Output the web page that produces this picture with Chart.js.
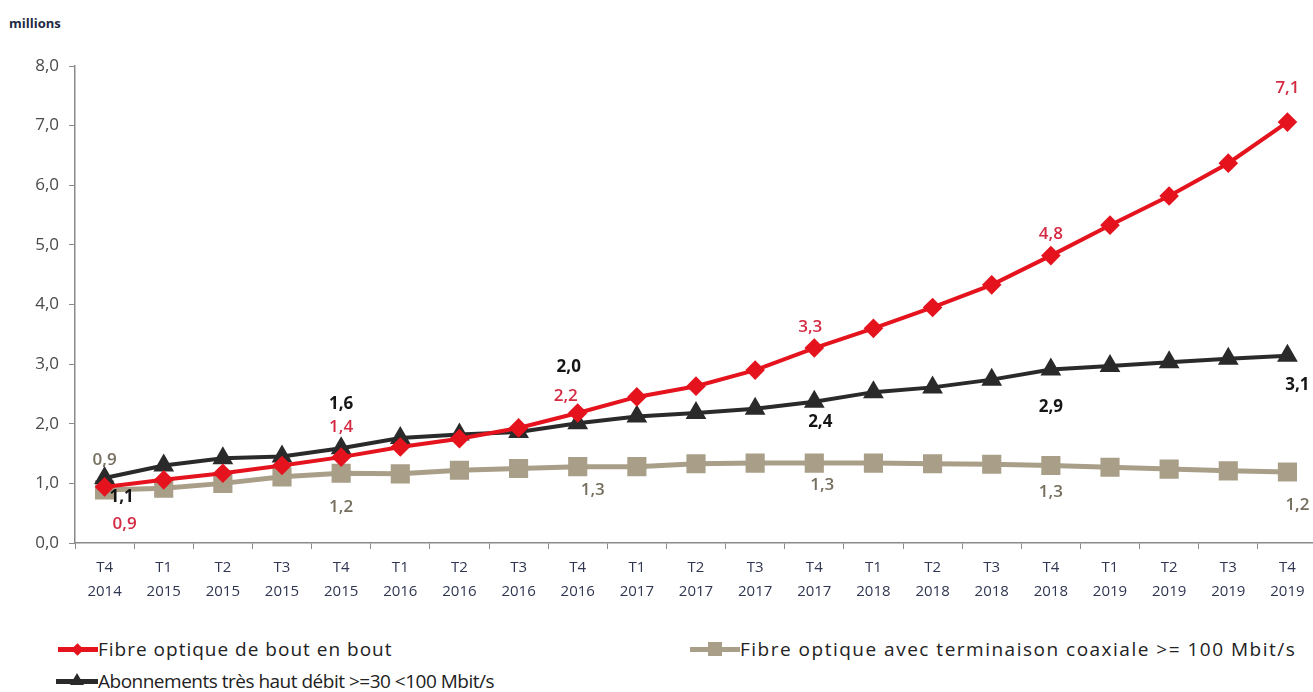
<!DOCTYPE html>
<html>
<head>
<meta charset="utf-8">
<script src="https://cdn.jsdelivr.net/npm/chart.js@4/dist/chart.umd.min.js"></script>
<style>
  html, body { margin: 0; padding: 0; background: #fff; overflow: hidden; }
  body { width: 1313px; height: 692px; position: relative; font-family: "Open Sans", sans-serif; }
  #wrap { position: absolute; left: 0; top: 0; width: 1317px; height: 600px; }
  #unit { position: absolute; left: 9px; top: 14px; font: bold 13px "Open Sans", sans-serif; color: #1f2a44; }
  .item { position: absolute; display: flex; align-items: center; font-size: 19px; color: #222; white-space: nowrap; }
  .key { position: relative; height: 20px; }
  .key .ln { position: absolute; left: 0; right: 0; top: 8px; height: 5px; }
  .key .mk { position: absolute; }
</style>
</head>
<body>
<div id="unit">millions</div>
<div id="wrap"><canvas id="chart" width="1317" height="600"></canvas></div>

<div class="item" style="left:58px; top:636px;">
  <div class="key" style="width:40px;"><div class="ln" style="background:#e5131d"></div>
    <div class="mk" style="left:15px; top:6px; width:9px; height:9px; background:#e5131d; transform:rotate(45deg);"></div></div>
  <span style="letter-spacing:1px">Fibre optique de bout en bout</span>
</div>
<div class="item" style="left:690px; top:636px;">
  <div class="key" style="width:50px;"><div class="ln" style="background:#a99f88"></div>
    <div class="mk" style="left:18px; top:3px; width:14px; height:14px; background:#a99f88;"></div></div>
  <span style="letter-spacing:1.5px">Fibre optique avec terminaison coaxiale &gt;= 100 Mbit/s</span>
</div>
<div class="item" style="left:56px; top:668px;">
  <div class="key" style="width:42px;"><div class="ln" style="background:#2a2a2a"></div>
    <div class="mk" style="left:14px; top:2px; width:0; height:0; border-left:7px solid transparent; border-right:7px solid transparent; border-bottom:12px solid #2a2a2a;"></div></div>
  <span style="letter-spacing:-0.5px">Abonnements très haut débit &gt;=30 &lt;100 Mbit/s</span>
</div>

<script>
const quarters = [
  ['T4','2014'],
  ['T1','2015'], ['T2','2015'], ['T3','2015'], ['T4','2015'],
  ['T1','2016'], ['T2','2016'], ['T3','2016'], ['T4','2016'],
  ['T1','2017'], ['T2','2017'], ['T3','2017'], ['T4','2017'],
  ['T1','2018'], ['T2','2018'], ['T3','2018'], ['T4','2018'],
  ['T1','2019'], ['T2','2019'], ['T3','2019'], ['T4','2019']
];

const fibreBoutEnBout = [0.94, 1.06, 1.17, 1.30, 1.44, 1.61, 1.75, 1.93, 2.18, 2.45, 2.63, 2.90, 3.27, 3.60, 3.95, 4.33, 4.82, 5.33, 5.82, 6.37, 7.06];
const tresHautDebit   = [1.09, 1.30, 1.42, 1.45, 1.59, 1.76, 1.82, 1.86, 2.01, 2.12, 2.18, 2.25, 2.37, 2.53, 2.61, 2.74, 2.91, 2.97, 3.03, 3.09, 3.14];
const fibreCoaxiale   = [0.89, 0.92, 1.00, 1.11, 1.17, 1.16, 1.22, 1.25, 1.28, 1.28, 1.33, 1.34, 1.34, 1.34, 1.33, 1.32, 1.30, 1.27, 1.24, 1.21, 1.19];

const yTicks = [0, 1, 2, 3, 4, 5, 6, 7, 8];
const labelledQuarters = [0, 4, 8, 12, 16, 20];

const fmt = v => v.toFixed(1).replace('.', ',');

// label placement (pixel offsets from the point), per dataset, same order as labelledQuarters
const labelStyle = {
  red:   { color: '#d42a42', weight: '600', offs: [[20, 37], [0, -30], [-12, -17], [-4, -21], [0, -21], [0, -34]] },
  black: { color: '#151515', weight: 'bold', offs: [[17, 19], [0, -44], [-9, -56], [6, 20], [0, 38], [10, 29]] },
  tan:   { color: '#766e5e', weight: '600', offs: [[0, -30], [0, 34], [15, 23], [8, 22], [0, 27], [10, 33]] }
};

const pointLabels = {
  id: 'pointLabels',
  afterDatasetsDraw(chart) {
    const ctx = chart.ctx;
    ctx.save();
    ctx.textAlign = 'center';
    ctx.textBaseline = 'middle';
    chart.data.datasets.forEach((ds, di) => {
      const st = labelStyle[ds.key];
      const meta = chart.getDatasetMeta(di);
      ctx.fillStyle = st.color;
      ctx.font = st.weight + ' 17px "Open Sans", sans-serif';
      labelledQuarters.forEach((qi, k) => {
        const p = meta.data[qi];
        ctx.fillText(fmt(ds.data[qi]), p.x + st.offs[k][0], p.y + st.offs[k][1]);
      });
    });
    ctx.restore();
  }
};

const ctx = document.getElementById('chart').getContext('2d');

const chart = new Chart(ctx, {
  type: 'line',
  data: {
    labels: quarters,
    datasets: [
      {
        key: 'red',
        label: 'Fibre optique de bout en bout',
        data: fibreBoutEnBout,
        borderColor: '#e5131d',
        backgroundColor: '#e5131d',
        borderWidth: 4,
        pointStyle: 'rectRot',
        pointRadius: 7,
        order: 1
      },
      {
        key: 'black',
        label: 'Abonnements très haut débit >=30 <100 Mbit/s',
        data: tresHautDebit,
        borderColor: '#2a2a2a',
        backgroundColor: '#2a2a2a',
        borderWidth: 4,
        pointStyle: 'triangle',
        pointRadius: 8,
        order: 2
      },
      {
        key: 'tan',
        label: 'Fibre optique avec terminaison coaxiale >= 100 Mbit/s',
        data: fibreCoaxiale,
        borderColor: '#a99f88',
        backgroundColor: '#a99f88',
        borderWidth: 5,
        pointStyle: 'rect',
        pointRadius: 10,
        order: 3
      }
    ]
  },
  options: {
    responsive: false,
    animation: false,
    layout: { autoPadding: false, padding: { top: 66, left: 0, right: 0, bottom: 0 } },
    plugins: {
      legend: { display: false },
      tooltip: { enabled: false }
    },
    scales: {
      x: {
        offset: true,
        afterFit: s => { s.height = 57; s.paddingLeft = 0; s.paddingRight = 0; },
        border: { color: '#8a8a8a', width: 1.5 },
        grid: { drawOnChartArea: false, offset: true, tickLength: 6, color: '#8a8a8a' },
        ticks: { color: '#2f3652', font: { size: 15, family: '"Open Sans", sans-serif', lineHeight: 1.6 }, padding: 7, maxRotation: 0, autoSkip: false }
      },
      y: {
        min: 0,
        max: 8,
        afterFit: s => { s.width = 75; },
        afterBuildTicks: s => { s.ticks = yTicks.map(v => ({ value: v })); },
        border: { color: '#8a8a8a', width: 1.5 },
        grid: { drawOnChartArea: false, tickLength: 6, color: '#8a8a8a' },
        ticks: { color: '#4a4a4a', font: { size: 17, family: '"Open Sans", sans-serif' }, padding: 10, callback: v => fmt(v) }
      }
    }
  },
  plugins: [pointLabels]
});
</script>
</body>
</html>
